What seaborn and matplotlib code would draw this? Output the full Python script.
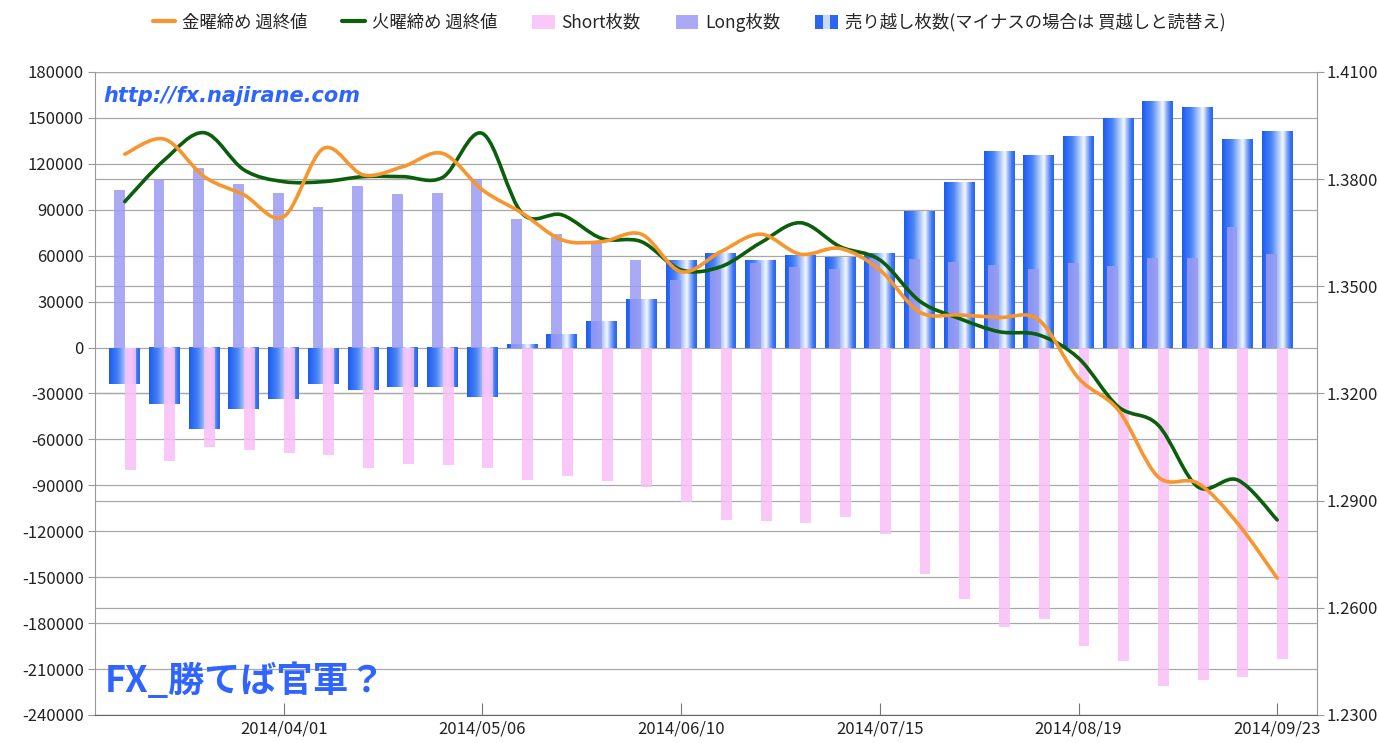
import numpy as np
import pandas as pd
import seaborn as sns
import matplotlib.pyplot as plt
from matplotlib.path import Path
from matplotlib.patches import PathPatch, Patch
from matplotlib.lines import Line2D
from matplotlib.colors import LinearSegmentedColormap
from matplotlib.legend_handler import HandlerTuple

# weekly data
dates = ['2014/03/04', '2014/03/11', '2014/03/18', '2014/03/25', '2014/04/01',
         '2014/04/08', '2014/04/15', '2014/04/22', '2014/04/29', '2014/05/06',
         '2014/05/13', '2014/05/20', '2014/05/27', '2014/06/03', '2014/06/10',
         '2014/06/17', '2014/06/24', '2014/07/01', '2014/07/08', '2014/07/15',
         '2014/07/22', '2014/07/29', '2014/08/05', '2014/08/12', '2014/08/19',
         '2014/08/26', '2014/09/02', '2014/09/09', '2014/09/16', '2014/09/23']
net_short = [-23500, -37000, -53000, -40000, -33500, -23500, -28000, -26000, -26000, -32500,
             2000, 9000, 17000, 32000, 57000, 61500, 57000, 60500, 59000, 62000,
             89000, 108000, 128500, 125700, 138300, 150200, 161100, 156800, 136500, 141100]
long_pos = [103000, 109500, 117500, 106700, 101000, 92000, 105800, 100200, 101000, 110000,
            84000, 74000, 69500, 57000, 44000, 51000, 55000, 52500, 51500, 58500,
            57700, 56000, 54000, 51200, 55500, 53400, 58800, 58800, 78800, 61000]
short_pos = [80000, 74000, 65000, 67000, 68600, 70000, 78400, 76200, 76800, 78400,
             86600, 83800, 87000, 91000, 101000, 112700, 113000, 114300, 111000, 121500,
             147600, 164300, 182800, 177400, 194800, 204600, 221000, 217300, 215500, 203500]
fri_close = [1.3870, 1.3912, 1.3807, 1.3756, 1.3695, 1.3886, 1.3812, 1.3835, 1.3872, 1.3770,
             1.3705, 1.3630, 1.3625, 1.3646, 1.3541, 1.3597, 1.3646, 1.3590, 1.3606, 1.3546,
             1.3428, 1.3420, 1.3413, 1.3406, 1.3243, 1.3154, 1.2967, 1.2949, 1.2837, 1.2683]
tue_close = [1.3737, 1.3854, 1.3930, 1.3826, 1.3793, 1.3793, 1.3807, 1.3807, 1.3805, 1.3928,
             1.3704, 1.3700, 1.3634, 1.3625, 1.3546, 1.3555, 1.3622, 1.3678, 1.3611, 1.3574,
             1.3459, 1.3410, 1.3373, 1.3364, 1.3299, 1.3163, 1.3112, 1.2939, 1.2958, 1.2846]

left_ticks = list(range(-240000, 180001, 30000))
right_ticks = [1.23, 1.26, 1.29, 1.32, 1.35, 1.38, 1.41]
label_dates = ['2014/04/01', '2014/05/06', '2014/06/10', '2014/07/15', '2014/08/19', '2014/09/23']

sns.set_style("white")
plt.rcParams['font.family'] = ['Noto Sans CJK JP', 'DejaVu Sans']

fig = plt.figure(figsize=(13.78, 7.43), dpi=100)
ax = fig.add_axes([0.0689, 0.0377, 0.8868, 0.8654])
ax_r = ax.twinx()
ax_lines = ax.twinx()
ax_r.set_zorder(0)
ax.set_zorder(1)
ax_lines.set_zorder(2)
ax.patch.set_visible(False)
ax_lines.patch.set_visible(False)
ax_r.set_facecolor('#f8f8f8')

idx = list(range(len(dates)))

# net short bars (drawn with a gradient afterwards)
n0 = len(ax.patches)
sns.barplot(x=idx, y=net_short, color='#2a66ee', width=0.78, saturation=1,
            errorbar=None, ax=ax)
net_bars = ax.patches[n0:]

grad_cmap = LinearSegmentedColormap.from_list('cyl', [
    (0.0, '#1d5cf2'), (0.3, '#4a84f5'), (0.55, '#b8cffb'), (0.68, '#f6f9ff'),
    (0.8, '#8fb1f8'), (0.92, '#3a73f2'), (1.0, '#2a66ee')])
grad = np.linspace(0, 1, 64)[np.newaxis, :]
for p in net_bars:
    x0, w = p.get_x(), p.get_width()
    y0, h = p.get_y(), p.get_height()
    ax.imshow(grad, extent=[x0, x0 + w, min(y0, y0 + h), max(y0, y0 + h)],
              cmap=grad_cmap, aspect='auto', interpolation='bicubic', zorder=1)
    p.set_visible(False)

# long / short bars on top
df = pd.DataFrame({'idx': idx * 2,
                   'val': long_pos + [-s for s in short_pos],
                   'kind': ['Long'] * len(idx) + ['Short'] * len(idx)})
n1 = len(ax.patches)
sns.barplot(data=df, x='idx', y='val', hue='kind',
            palette={'Long': '#9b9bf3', 'Short': '#f8bff8'},
            width=0.55, dodge=True, saturation=1, alpha=0.85, errorbar=None,
            legend=False, ax=ax)
for p in ax.patches[n1:]:
    p.set_zorder(2)
    p.set_linewidth(0)


# smooth price lines as cubic bezier paths through the weekly points
def smooth_path(xs, ys):
    pts = np.column_stack([xs, ys]).astype(float)
    verts = [pts[0]]
    codes = [Path.MOVETO]
    n = len(pts)
    for i in range(n - 1):
        p_prev = pts[i - 1] if i > 0 else pts[i]
        p_next2 = pts[i + 2] if i + 2 < n else pts[i + 1]
        c1 = pts[i] + (pts[i + 1] - p_prev) / 6.0
        c2 = pts[i + 1] - (p_next2 - pts[i]) / 6.0
        verts += [c1, c2, pts[i + 1]]
        codes += [Path.CURVE4] * 3
    return Path(verts, codes)


ax_lines.add_patch(PathPatch(smooth_path(idx, tue_close), fill=False,
                             edgecolor='#0b5e0b', lw=2.6, capstyle='round'))
ax_lines.add_patch(PathPatch(smooth_path(idx, fri_close), fill=False,
                             edgecolor='#f7962e', lw=2.6, capstyle='round'))

# axes ranges / ticks
ax.set_xlim(-0.75, 30.0)
ax.set_ylim(-240000, 180000)
ax_r.set_ylim(1.23, 1.41)
ax_lines.set_ylim(1.23, 1.41)
ax_lines.set_axis_off()

ax.set_yticks(left_ticks)
ax.set_yticklabels([str(t) for t in left_ticks])
ax.set_xticks([dates.index(d) for d in label_dates])
ax.set_xticklabels(label_dates)
ax.set_xlabel('')
ax.set_ylabel('')
ax_r.set_yticks(right_ticks)
ax_r.set_yticklabels([f'{t:.4f}' for t in right_ticks])

ax.yaxis.grid(True, color='#a8a8a8', lw=0.9)
ax_r.yaxis.grid(True, color='#a8a8a8', lw=0.9)
ax.xaxis.grid(False)
ax_r.xaxis.grid(False)

ax.tick_params(axis='y', direction='out', length=5, color='#999999',
               labelsize=12, labelcolor='#222222', pad=3, left=True)
ax.tick_params(axis='x', direction='in', length=9, color='#777777',
               labelsize=12, labelcolor='#222222', pad=4, bottom=True)
ax_r.tick_params(axis='y', direction='out', length=5, color='#999999',
                 labelsize=12, labelcolor='#222222', pad=2, right=True)

for a in (ax, ax_r, ax_lines):
    for s in a.spines.values():
        s.set_visible(False)
ax_r.spines['right'].set_visible(True)
ax_r.spines['right'].set_color('#999999')
ax.spines['left'].set_visible(True)
ax.spines['left'].set_color('#999999')
ax.spines['bottom'].set_visible(True)
ax.spines['bottom'].set_color('#666666')

# watermark texts
ax.text(0.007, 0.962, 'http://fx.najirane.com', transform=ax.transAxes,
        fontsize=15, fontweight='bold', fontstyle='italic', color='#2f64ff',
        family=['DejaVu Sans'], va='center', ha='left', zorder=5)
ax.text(0.008, 0.052, 'FX_勝てば官軍？', transform=ax.transAxes,
        fontsize=26, fontweight='bold', color='#2f64ff',
        va='center', ha='left', zorder=5)

# legend
handles = [Line2D([], [], color='#f7962e', lw=3),
           Line2D([], [], color='#0b5e0b', lw=3),
           Patch(facecolor='#f9c8f9', edgecolor='none'),
           Patch(facecolor='#aaa8f7', edgecolor='none'),
           (Patch(facecolor='#2a66ee', edgecolor='none'),
            Patch(facecolor='#c9dafc', edgecolor='none'),
            Patch(facecolor='#2a66ee', edgecolor='none'))]
labels = ['金曜締め 週終値', '火曜締め 週終値', 'Short枚数', 'Long枚数',
          '売り越し枚数(マイナスの場合は 買越しと読替え)']
fig.legend(handles, labels, loc='center', bbox_to_anchor=(0.5, 0.97), ncol=5,
           frameon=False, fontsize=12.5, handlelength=1.3, handleheight=0.9,
           columnspacing=2.0, handletextpad=0.4,
           handler_map={tuple: HandlerTuple(ndivide=None, pad=0)})

plt.savefig('out.png', dpi=100, facecolor='white')
